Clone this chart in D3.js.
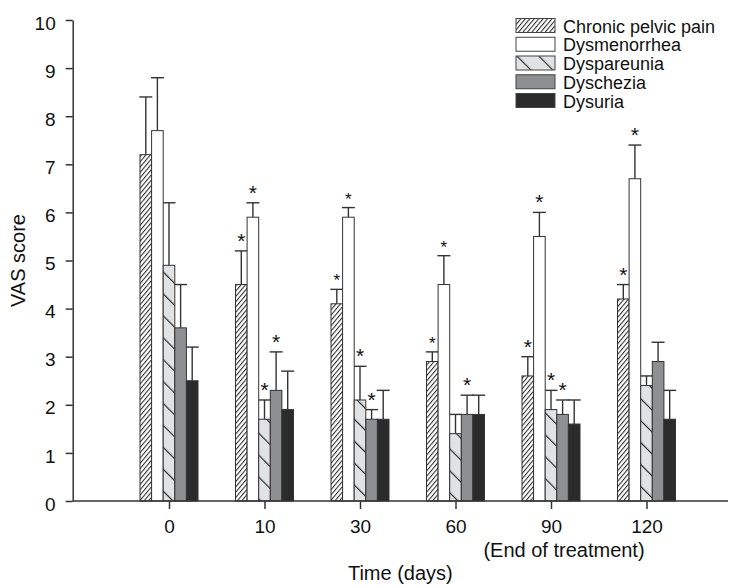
<!DOCTYPE html>
<html><head><meta charset="utf-8">
<script src="https://cdn.jsdelivr.net/npm/d3@7/dist/d3.min.js"></script>
<style>
html,body{margin:0;padding:0;background:#fff;}
svg{display:block;font-family:"Liberation Sans",Arial,sans-serif;}
</style></head>
<body>
<svg id="chart" width="730" height="585"></svg>
<script>
// ---- data ----
const days = ["0", "10", "30", "60", "90", "120"];
const seriesNames = ["Chronic pelvic pain", "Dysmenorrhea", "Dyspareunia", "Dyschezia", "Dysuria"];
const yTicks = [0, 1, 2, 3, 4, 5, 6, 7, 8, 9, 10];

const cppMean    = [7.2, 4.5, 4.1, 2.9, 2.6, 4.2];
const cppErr     = [1.2, 0.7, 0.3, 0.2, 0.4, 0.3];
const dysmenMean = [7.7, 5.9, 5.9, 4.5, 5.5, 6.7];
const dysmenErr  = [1.1, 0.3, 0.2, 0.6, 0.5, 0.7];
const dysparMean = [4.9, 1.7, 2.1, 1.4, 1.9, 2.4];
const dysparErr  = [1.3, 0.4, 0.7, 0.4, 0.4, 0.2];
const dyschMean  = [3.6, 2.3, 1.7, 1.8, 1.8, 2.9];
const dyschErr   = [0.9, 0.8, 0.2, 0.4, 0.3, 0.4];
const dysuMean   = [2.5, 1.9, 1.7, 1.8, 1.6, 1.7];
const dysuErr    = [0.7, 0.8, 0.6, 0.4, 0.5, 0.6];

// significance marks: 0 = none, 1 = asterisk, 2 = small asterisk
const cppSig    = [0, 1, 2, 2, 1, 1];
const dysmenSig = [0, 1, 2, 2, 1, 1];
const dysparSig = [0, 1, 1, 0, 1, 0];
const dyschSig  = [0, 1, 1, 1, 1, 0];
const dysuSig   = [0, 0, 0, 0, 0, 0];

const means = [cppMean, dysmenMean, dysparMean, dyschMean, dysuMean];
const errs  = [cppErr, dysmenErr, dysparErr, dyschErr, dysuErr];
const sigs  = [cppSig, dysmenSig, dysparSig, dyschSig, dysuSig];

// ---- drawing ----
const svg = d3.select("#chart");
const ink = "#2b2b2b";
const axisLeftX = 72.7, axisRightX = 728, yTop = 20, yBottom = 501;

const defs = svg.append("defs");
const p1 = defs.append("pattern").attr("id", "hatchCPP")
  .attr("patternUnits", "userSpaceOnUse").attr("width", 3.4).attr("height", 10)
  .attr("patternTransform", "rotate(40)");
p1.append("rect").attr("width", 3.4).attr("height", 10).attr("fill", "#fff");
p1.append("line").attr("x1", 0.5).attr("y1", 0).attr("x2", 0.5).attr("y2", 10)
  .attr("stroke", ink).attr("stroke-width", 1.1);
const p2 = defs.append("pattern").attr("id", "hatchDysp")
  .attr("patternUnits", "userSpaceOnUse").attr("width", 15.5).attr("height", 10)
  .attr("patternTransform", "rotate(-45)");
p2.append("rect").attr("width", 15.5).attr("height", 10).attr("fill", "#e1e2e4");
p2.append("line").attr("x1", 0.6).attr("y1", 0).attr("x2", 0.6).attr("y2", 10)
  .attr("stroke", ink).attr("stroke-width", 1.2);

const fills = ["url(#hatchCPP)", "#ffffff", "url(#hatchDysp)", "#8e8f91", "#2b2b2b"];

const x = d3.scalePoint().domain(days).range([169, 646.5]);
const xs = d3.scaleBand().domain(seriesNames).range([-29, 29]).padding(0);
const y = d3.scaleLinear().domain([0, 10]).range([yBottom, yTop]);

// bars
const records = [];
seriesNames.forEach((s, si) => {
  days.forEach((d, di) => {
    records.push({s, si, d, v: means[si][di], e: errs[si][di], sig: sigs[si][di]});
  });
});

const g = svg.append("g");
const bw = xs.bandwidth();

// error bars (drawn first, bars over them)
g.selectAll("line.err").data(records).join("line")
  .attr("x1", r => x(r.d) + xs(r.s) + bw / 2)
  .attr("x2", r => x(r.d) + xs(r.s) + bw / 2)
  .attr("y1", r => y(r.v)).attr("y2", r => y(r.v + r.e))
  .attr("stroke", "#333").attr("stroke-width", 1.4);
g.selectAll("line.cap").data(records).join("line")
  .attr("x1", r => x(r.d) + xs(r.s) + bw / 2 - 6.5)
  .attr("x2", r => x(r.d) + xs(r.s) + bw / 2 + 6.5)
  .attr("y1", r => y(r.v + r.e)).attr("y2", r => y(r.v + r.e))
  .attr("stroke", "#333").attr("stroke-width", 1.4);

g.selectAll("rect.bar").data(records).join("rect")
  .attr("x", r => x(r.d) + xs(r.s))
  .attr("y", r => y(r.v))
  .attr("width", bw)
  .attr("height", r => y(0) - y(r.v))
  .attr("fill", r => fills[r.si])
  .attr("stroke", "#333").attr("stroke-width", 1);

// significance asterisks
g.selectAll("text.sig").data(records.filter(r => r.sig > 0)).join("text")
  .attr("x", r => x(r.d) + xs(r.s) + bw / 2)
  .attr("y", r => y(r.v + r.e) - 3)
  .attr("text-anchor", "middle")
  .attr("font-size", r => r.sig === 1 ? 21 : 17)
  .attr("fill", "#111")
  .text("*");

// y axis
const yAxis = svg.append("g").attr("transform", `translate(${axisLeftX},0)`)
  .call(d3.axisLeft(y).tickValues(yTicks).tickFormat(d3.format("d")).tickSize(7).tickPadding(10).tickSizeOuter(0));
yAxis.select(".domain").attr("stroke", "#333").attr("stroke-width", 1.5);
yAxis.selectAll(".tick line").attr("stroke", "#333").attr("stroke-width", 1.5);
yAxis.selectAll(".tick text").attr("font-size", 19).attr("fill", "#111").attr("dy", "0.48em")
  .attr("font-family", "Liberation Sans, Arial, sans-serif");

// x axis
const xAxis = svg.append("g").attr("transform", `translate(0,${yBottom})`)
  .call(d3.axisBottom(x).tickSize(8).tickPadding(11).tickSizeOuter(0));
xAxis.select(".domain").remove();
xAxis.append("line").attr("x1", axisLeftX).attr("x2", axisRightX).attr("y1", 0).attr("y2", 0)
  .attr("stroke", "#333").attr("stroke-width", 1.5);
xAxis.selectAll(".tick line").attr("stroke", "#333").attr("stroke-width", 1.5);
xAxis.selectAll(".tick text").attr("font-size", 19).attr("fill", "#111")
  .attr("font-family", "Liberation Sans, Arial, sans-serif");

// extra label under 90
svg.append("text").attr("x", x("90") + 13).attr("y", 556.5)
  .attr("text-anchor", "middle").attr("font-size", 20).attr("fill", "#111")
  .text("(End of treatment)");

// axis titles
svg.append("text").attr("x", (axisLeftX + axisRightX) / 2).attr("y", 580)
  .attr("text-anchor", "middle").attr("font-size", 20).attr("fill", "#111")
  .text("Time (days)");
svg.append("text").attr("transform", `translate(25,${(yTop + yBottom) / 2}) rotate(-90)`)
  .attr("text-anchor", "middle").attr("font-size", 20).attr("fill", "#111")
  .text("VAS score");

// legend
const lg = svg.append("g").attr("transform", "translate(516,18.5)");
const item = lg.selectAll("g").data(seriesNames).join("g")
  .attr("transform", (d, i) => `translate(0,${i * 18.75})`);
item.append("rect").attr("width", 39).attr("height", 14)
  .attr("fill", (d, i) => fills[i]).attr("stroke", "#444").attr("stroke-width", 1);
item.append("text").attr("x", 47).attr("y", 14).attr("font-size", 18).attr("fill", "#111")
  .text(d => d);
</script>
</body></html>
